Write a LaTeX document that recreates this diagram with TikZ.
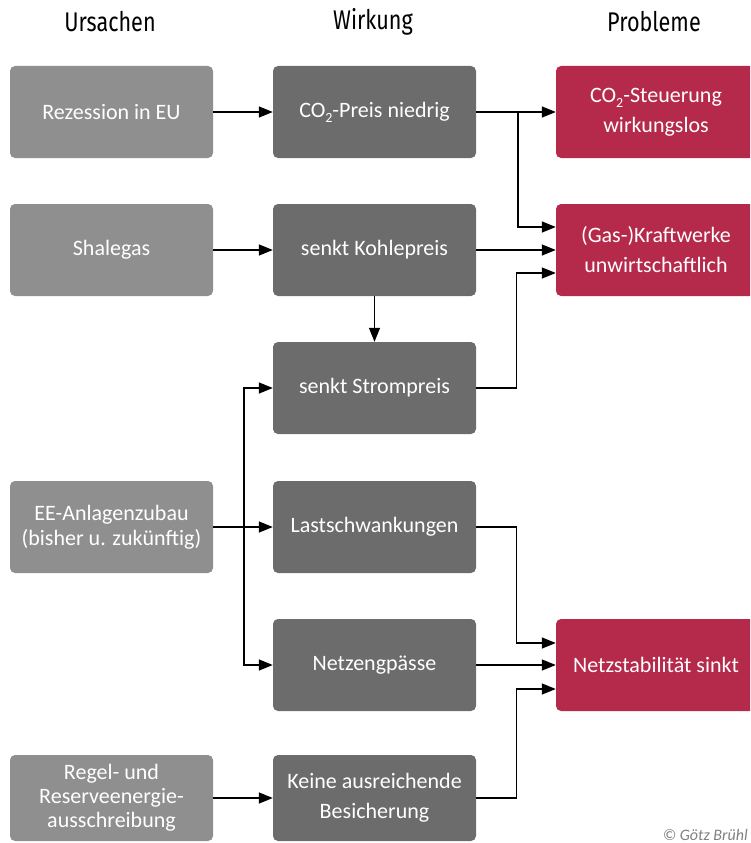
\documentclass[tikz,border=0pt]{standalone}
\usepackage{fontspec}
\setmainfont{Carlito}
\newfontfamily\headfont[FakeStretch=0.8]{Fira Sans}
\usetikzlibrary{arrows.meta}
\definecolor{causegray}{RGB}{143,143,143}
\definecolor{effectgray}{RGB}{108,108,108}
\definecolor{problemred}{RGB}{181,41,75}
\newcommand{\cotwo}{CO\raisebox{-5pt}{\fontsize{14}{14}\selectfont 2}}
\begin{document}
\begin{tikzpicture}[x=1pt, y=-1pt,
    every node/.style={font=\fontsize{22}{30}\selectfont},
    box/.style={rectangle, rounded corners=5pt, minimum width=203pt, minimum height=92pt,
        text=white, align=center, inner sep=0pt},
    cause/.style={box, fill=causegray},
    effect/.style={box, fill=effectgray},
    problem/.style={box, fill=problemred, minimum width=200pt},
    head/.style={font=\headfont\fontsize{27}{30}\selectfont},
    arr/.style={line width=1.4pt, -{Triangle[length=14pt, width=11pt]}}]

    \path[use as bounding box, clip] (0,0) rectangle (750,843);

    % column headings
    \node[head] (hcause) at (110,22) {Ursachen};
    \node[head] (heffect) at (373,22) {Wirkung};
    \node[head] (hproblem) at (654,22) {Probleme};

    % Ursachen
    \node[cause] (rez) at (111.5,112) {Rezession in EU};
    \node[cause] (shale) at (111.5,250) {Shalegas};
    \node[cause, font=\fontsize{22}{25}\selectfont] (ee) at (111.5,527) {EE-Anlagenzubau\\(bisher u. zukünftig)};
    \node[cause, font=\fontsize{22}{24}\selectfont, minimum height=86pt] (regel) at (111.5,798) {Regel- und\\Reserveenergie-\\ausschreibung};

    % Wirkung
    \node[effect] (co2p) at (374.5,112) {\cotwo-Preis niedrig};
    \node[effect] (kohle) at (374.5,250) {senkt Kohlepreis};
    \node[effect] (strom) at (374.5,388) {senkt Strompreis};
    \node[effect] (last) at (374.5,527) {Lastschwankungen};
    \node[effect] (engp) at (374.5,665) {Netzengpässe};
    \node[effect, minimum height=86pt] (keine) at (374.5,798) {Keine ausreichende\\Besicherung};

    % Probleme
    \node[problem] (co2s) at (656,112) {\cotwo-Steuerung\\wirkungslos};
    \node[problem] (kraft) at (656,250) {(Gas-)Kraftwerke\\unwirtschaftlich};
    \node[problem] (netz) at (656,665) {Netzstabilität sinkt};

    % arrows to Wirkung
    \draw[arr] (rez) -- (co2p);
    \draw[arr] (shale) -- (kohle);
    \draw[arr] (kohle) -- (strom);
    \draw[arr] (ee) -- (last);
    \coordinate (eebus) at (244,527);
    \draw[arr] (eebus) |- (strom.west);
    \draw[arr] (eebus) |- (engp.west);
    \draw[arr] (regel) -- (keine);

    % arrows to Probleme
    \draw[arr] (co2p) -- (co2s);
    \coordinate (co2bus) at (518,112);
    \draw[arr] (co2bus) |- ([yshift=23pt]kraft.west);
    \draw[arr] (kohle) -- (kraft);
    \draw[arr] (strom.east) -- ++(40,0) |- ([yshift=-23pt]kraft.west);
    \draw[arr] (last.east) -- ++(40,0) |- ([yshift=22pt]netz.west);
    \draw[arr] (engp) -- (netz);
    \draw[arr] (keine.east) -- ++(40,0) |- ([yshift=-24pt]netz.west);

    \node[anchor=south east, text=gray, inner sep=2pt, font=\itshape\fontsize{16}{18}\selectfont] (copy) at (750,843) {© Götz Brühl};

\end{tikzpicture}
\end{document}
